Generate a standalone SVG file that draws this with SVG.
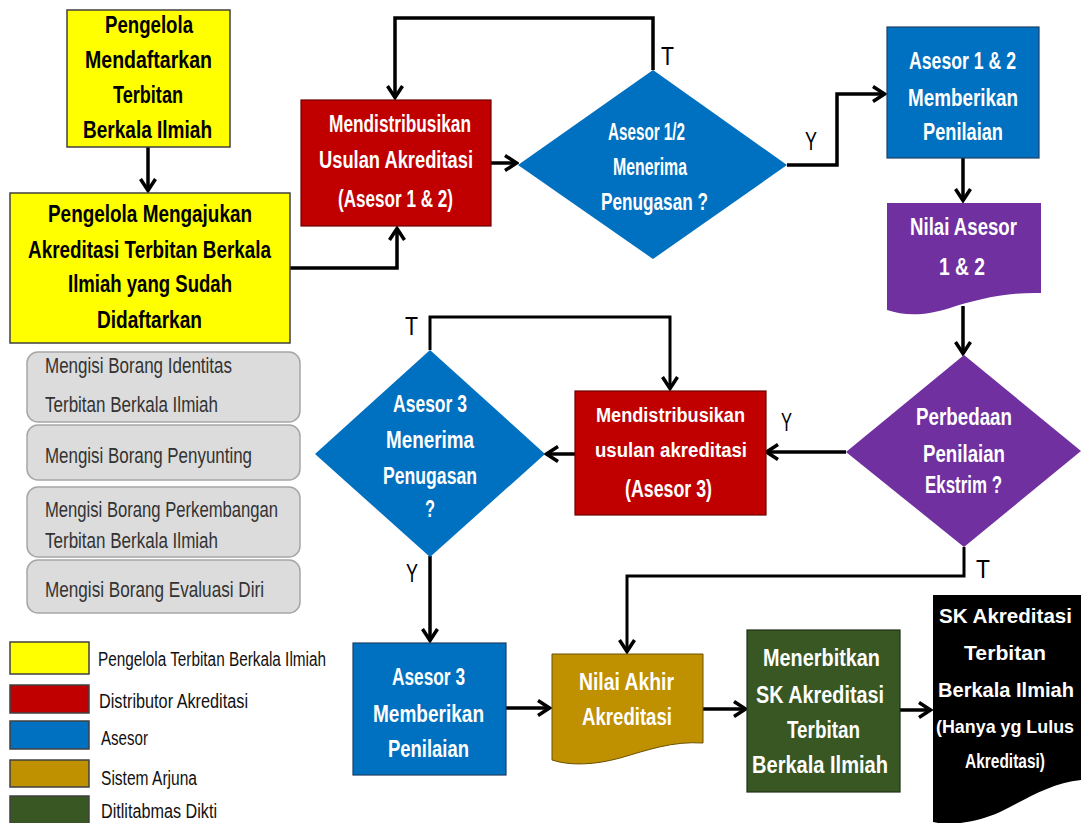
<svg xmlns="http://www.w3.org/2000/svg" width="1081" height="823" viewBox="0 0 1081 823">
<defs>
<marker id="arr" markerUnits="userSpaceOnUse" markerWidth="18" markerHeight="18" viewBox="0 0 18 18" refX="16" refY="9" orient="auto">
<path d="M4,1.5 L15.5,9 L4,16.5" fill="none" stroke="#000" stroke-width="3.5" stroke-linejoin="miter"/>
</marker>
<style>
.b{font-family:"Liberation Sans","DejaVu Sans",sans-serif;font-weight:bold;font-size:23px}
.bs{font-family:"Liberation Sans","DejaVu Sans",sans-serif;font-weight:bold;font-size:20px}
.w{fill:#fff}
.k{fill:#000}
.g{font-family:"Liberation Sans","DejaVu Sans",sans-serif;font-size:22px;fill:#333}
.lg{font-family:"Liberation Sans","DejaVu Sans",sans-serif;font-size:20px;fill:#111}
.lab{font-family:"Liberation Sans","DejaVu Sans",sans-serif;font-size:25px;fill:#000}
.c{fill:none;stroke:#000;stroke-width:3.5;marker-end:url(#arr)}
.c2{fill:none;stroke:#000;stroke-width:3;marker-end:url(#arr)}
.gb{fill:#dcdcdc;stroke:#a6a6a6;stroke-width:1.5}
.sw{stroke:#404040;stroke-width:1.5}
</style>
</defs>
<rect width="1081" height="823" fill="#fff"/>

<g id="connectors">
<path class="c" d="M148,147 V191"/>
<path class="c" d="M290,268 H397 V228"/>
<path class="c" d="M491,163 H517"/>
<path class="c" d="M653,70 V18 H395 V98"/>
<path class="c" d="M787,165 H837 V94 H885"/>
<path class="c" d="M963,158 V201"/>
<path class="c" d="M963,306 V354"/>
<path class="c" d="M846,452 H766"/>
<path class="c" d="M575,454 H546"/>
<path class="c2" d="M430,350 V317 H670 V389"/>
<path class="c" d="M430,556 V641"/>
<path class="c" d="M506,708 H550"/>
<path class="c2" d="M964,547 V576 H627 V652"/>
<path class="c" d="M703,709 H746"/>
<path class="c" d="M900,710 H931"/>
<text class="lab" x="661" y="65" textLength="13" lengthAdjust="spacingAndGlyphs">T</text>
<text class="lab" x="805" y="150" textLength="12" lengthAdjust="spacingAndGlyphs">Y</text>
<text class="lab" x="781" y="431" textLength="11" lengthAdjust="spacingAndGlyphs">Y</text>
<text class="lab" x="405" y="335" textLength="13" lengthAdjust="spacingAndGlyphs">T</text>
<text class="lab" x="406" y="582" textLength="12" lengthAdjust="spacingAndGlyphs">Y</text>
<text class="lab" x="976" y="578" textLength="14" lengthAdjust="spacingAndGlyphs">T</text>
</g>

<g id="n1">
<rect x="67" y="10" width="163" height="137" fill="#ffff00" stroke="#404040" stroke-width="1.5"/>
<text class="b k" x="105" y="33" textLength="88" lengthAdjust="spacingAndGlyphs">Pengelola</text>
<text class="b k" x="85" y="68" textLength="127" lengthAdjust="spacingAndGlyphs">Mendaftarkan</text>
<text class="b k" x="113" y="103" textLength="70" lengthAdjust="spacingAndGlyphs">Terbitan</text>
<text class="b k" x="83" y="138" textLength="129" lengthAdjust="spacingAndGlyphs">Berkala Ilmiah</text>
</g>

<g id="n2">
<rect x="10" y="193" width="280" height="150" fill="#ffff00" stroke="#404040" stroke-width="1.5"/>
<text class="b k" x="48" y="222" textLength="204" lengthAdjust="spacingAndGlyphs">Pengelola Mengajukan</text>
<text class="b k" x="28" y="258" textLength="243" lengthAdjust="spacingAndGlyphs">Akreditasi Terbitan Berkala</text>
<text class="b k" x="68" y="292" textLength="164" lengthAdjust="spacingAndGlyphs">Ilmiah yang Sudah</text>
<text class="b k" x="97" y="328" textLength="105" lengthAdjust="spacingAndGlyphs">Didaftarkan</text>
</g>

<g id="n3">
<rect x="301" y="100" width="190" height="126" fill="#c00000" stroke="#6b0000" stroke-width="1.2"/>
<text class="b w" x="329" y="132" textLength="142" lengthAdjust="spacingAndGlyphs">Mendistribusikan</text>
<text class="b w" x="319" y="168" textLength="154" lengthAdjust="spacingAndGlyphs">Usulan Akreditasi</text>
<text class="b w" x="338" y="207" textLength="115" lengthAdjust="spacingAndGlyphs">(Asesor 1 &amp; 2)</text>
</g>

<g id="n4">
<polygon points="653,70 787,165 653,259 518,165" fill="#0070c0"/>
<text class="b w" x="608" y="140" textLength="77" lengthAdjust="spacingAndGlyphs">Asesor 1/2</text>
<text class="b w" x="613" y="175" textLength="74" lengthAdjust="spacingAndGlyphs">Menerima</text>
<text class="b w" x="601" y="210" textLength="107" lengthAdjust="spacingAndGlyphs">Penugasan ?</text>
</g>

<g id="n5">
<rect x="887" y="27" width="152" height="131" fill="#0070c0" stroke="#1f3f66" stroke-width="1.2"/>
<text class="b w" x="909" y="69" textLength="107" lengthAdjust="spacingAndGlyphs">Asesor 1 &amp; 2</text>
<text class="b w" x="908" y="106" textLength="110" lengthAdjust="spacingAndGlyphs">Memberikan</text>
<text class="b w" x="923" y="140" textLength="80" lengthAdjust="spacingAndGlyphs">Penilaian</text>
</g>

<g id="n6">
<path d="M887,203 H1041 V293 C1005,292 975,300 950,308 C925,316 905,316 887,310 Z" fill="#7030a0"/>
<text class="b w" x="910" y="235" textLength="107" lengthAdjust="spacingAndGlyphs">Nilai Asesor</text>
<text class="b w" x="939" y="275" textLength="46" lengthAdjust="spacingAndGlyphs">1 &amp; 2</text>
</g>

<g id="n7">
<polygon points="964,355 1081,451 964,547 846,452" fill="#7030a0"/>
<text class="b w" x="916" y="425" textLength="96" lengthAdjust="spacingAndGlyphs">Perbedaan</text>
<text class="b w" x="923" y="462" textLength="82" lengthAdjust="spacingAndGlyphs">Penilaian</text>
<text class="b w" x="925" y="493" textLength="77" lengthAdjust="spacingAndGlyphs">Ekstrim ?</text>
</g>

<g id="n8">
<rect x="575" y="391" width="191" height="124" fill="#c00000" stroke="#6b0000" stroke-width="1.2"/>
<text class="bs w" x="596" y="422" textLength="149" lengthAdjust="spacingAndGlyphs">Mendistribusikan</text>
<text class="bs w" x="595" y="457" textLength="152" lengthAdjust="spacingAndGlyphs">usulan akreditasi</text>
<text class="b w" x="625" y="497" textLength="87" lengthAdjust="spacingAndGlyphs">(Asesor 3)</text>
</g>

<g id="n9">
<polygon points="430,350 545,454 430,557 315,454" fill="#0070c0"/>
<text class="b w" x="393" y="412" textLength="74" lengthAdjust="spacingAndGlyphs">Asesor 3</text>
<text class="b w" x="386" y="448" textLength="88" lengthAdjust="spacingAndGlyphs">Menerima</text>
<text class="b w" x="383" y="484" textLength="94" lengthAdjust="spacingAndGlyphs">Penugasan</text>
<text class="b w" x="425" y="517" textLength="10" lengthAdjust="spacingAndGlyphs">?</text>
</g>

<g id="n10">
<rect x="353" y="643" width="153" height="132" fill="#0070c0" stroke="#1f3f66" stroke-width="1.2"/>
<text class="b w" x="392" y="685" textLength="73" lengthAdjust="spacingAndGlyphs">Asesor 3</text>
<text class="b w" x="373" y="722" textLength="111" lengthAdjust="spacingAndGlyphs">Memberikan</text>
<text class="b w" x="388" y="757" textLength="81" lengthAdjust="spacingAndGlyphs">Penilaian</text>
</g>

<g id="n11">
<path d="M552,654 H703 V743 C672,741 648,750 620,758 C595,765 570,766 552,760 Z" fill="#bf9000" stroke="#6b5000" stroke-width="1"/>
<text class="b w" x="579" y="690" textLength="95" lengthAdjust="spacingAndGlyphs">Nilai Akhir</text>
<text class="b w" x="582" y="725" textLength="90" lengthAdjust="spacingAndGlyphs">Akreditasi</text>
</g>

<g id="n12">
<rect x="747" y="630" width="153" height="162" fill="#385723" stroke="#1e2f14" stroke-width="1.2"/>
<text class="b w" x="763" y="666" textLength="117" lengthAdjust="spacingAndGlyphs">Menerbitkan</text>
<text class="b w" x="756" y="703" textLength="128" lengthAdjust="spacingAndGlyphs">SK Akreditasi</text>
<text class="b w" x="787" y="738" textLength="73" lengthAdjust="spacingAndGlyphs">Terbitan</text>
<text class="b w" x="752" y="773" textLength="136" lengthAdjust="spacingAndGlyphs">Berkala Ilmiah</text>
</g>

<g id="n13">
<path d="M933,595 H1081 V780 C1050,783 1025,800 1000,812 C975,823 950,826 933,822 Z" fill="#000"/>
<text class="bs w" x="939" y="623" textLength="133" lengthAdjust="spacingAndGlyphs">SK Akreditasi</text>
<text class="bs w" x="964" y="660" textLength="82" lengthAdjust="spacingAndGlyphs">Terbitan</text>
<text class="bs w" x="938" y="697" textLength="136" lengthAdjust="spacingAndGlyphs">Berkala Ilmiah</text>
<text class="w" x="936" y="733" font-family="Liberation Sans, DejaVu Sans, sans-serif" font-weight="bold" font-size="18.5" textLength="138" lengthAdjust="spacingAndGlyphs">(Hanya yg Lulus</text>
<text class="bs w" x="965" y="768" textLength="80" lengthAdjust="spacingAndGlyphs">Akreditasi)</text>
</g>

<g id="forms">
<rect class="gb" x="27" y="352" width="273" height="70" rx="11"/>
<text class="g" x="45" y="373" textLength="187" lengthAdjust="spacingAndGlyphs">Mengisi Borang Identitas</text>
<text class="g" x="45" y="412" textLength="173" lengthAdjust="spacingAndGlyphs">Terbitan Berkala Ilmiah</text>
<rect class="gb" x="27" y="425" width="273" height="55" rx="11"/>
<text class="g" x="45" y="463" textLength="207" lengthAdjust="spacingAndGlyphs">Mengisi Borang Penyunting</text>
<rect class="gb" x="27" y="487" width="273" height="70" rx="11"/>
<text class="g" x="45" y="517" textLength="233" lengthAdjust="spacingAndGlyphs">Mengisi Borang Perkembangan</text>
<text class="g" x="45" y="548" textLength="173" lengthAdjust="spacingAndGlyphs">Terbitan Berkala Ilmiah</text>
<rect class="gb" x="27" y="560" width="273" height="53" rx="11"/>
<text class="g" x="45" y="597" textLength="219" lengthAdjust="spacingAndGlyphs">Mengisi Borang Evaluasi Diri</text>
</g>

<g id="legend">
<rect class="sw" x="10" y="642" width="79" height="32" fill="#ffff00"/>
<text class="lg" x="98" y="666" textLength="228" lengthAdjust="spacingAndGlyphs">Pengelola Terbitan Berkala Ilmiah</text>
<rect class="sw" x="10" y="685" width="79" height="28" fill="#c00000"/>
<text class="lg" x="99" y="708" textLength="149" lengthAdjust="spacingAndGlyphs">Distributor Akreditasi</text>
<rect class="sw" x="10" y="721" width="79" height="28" fill="#0070c0"/>
<text class="lg" x="101" y="745" textLength="47" lengthAdjust="spacingAndGlyphs">Asesor</text>
<rect class="sw" x="10" y="760" width="79" height="27" fill="#bf9000"/>
<text class="lg" x="101" y="785" textLength="96" lengthAdjust="spacingAndGlyphs">Sistem Arjuna</text>
<rect class="sw" x="10" y="796" width="79" height="30" fill="#385723"/>
<text class="lg" x="101" y="818" textLength="116" lengthAdjust="spacingAndGlyphs">Ditlitabmas Dikti</text>
</g>
</svg>
